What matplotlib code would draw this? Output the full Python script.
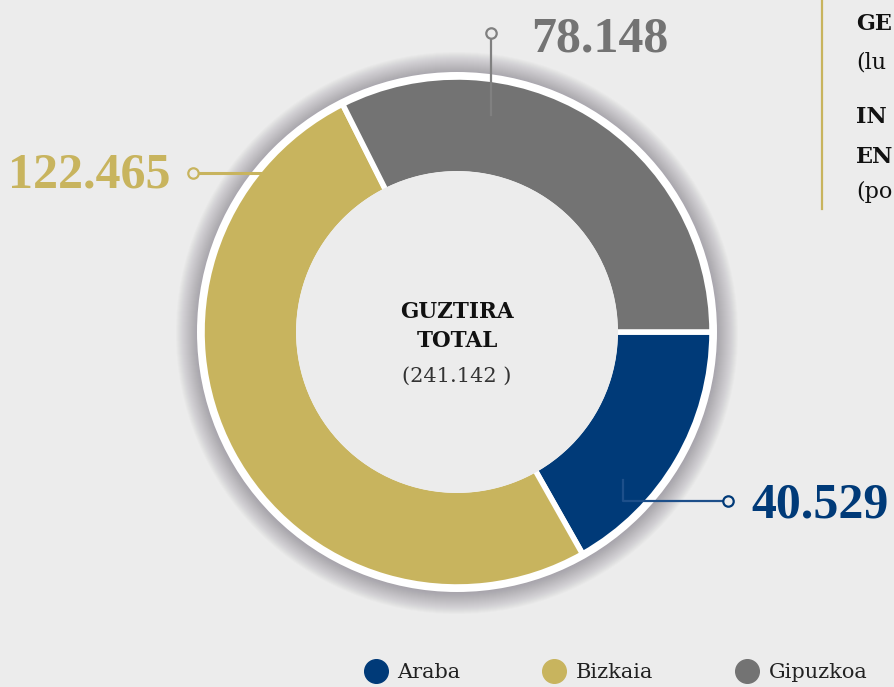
import matplotlib
matplotlib.use("Agg")
import matplotlib.pyplot as plt
from matplotlib.patches import Circle
from matplotlib.lines import Line2D

# ---- data ----
regions = ["Araba", "Bizkaia", "Gipuzkoa"]
values = [40529, 122465, 78148]
colors = ["#003a78", "#c8b45e", "#737373"]
total_label = ["GUZTIRA", "TOTAL"]
side_texts = ["GE", "(lu", "IN", "EN", "(po"]

BG = "#ececec"
W, H = 894, 687


def Y(y):
    return H - y


def fmt(v):
    return f"{v:,}".replace(",", ".")


fig = plt.figure(figsize=(W / 100, H / 100), dpi=100, facecolor=BG)
ax = fig.add_axes([0, 0, 1, 1])
ax.set_xlim(0, W)
ax.set_ylim(0, H)
ax.set_aspect("equal")
ax.axis("off")
ax.set_facecolor(BG)

cx, cy = 457, Y(332)
R_out, R_in = 255, 161

# shadow (soft, stacked translucent discs)
for k in range(22, 0, -1):
    ax.add_patch(Circle((cx, cy - 1), 259 + k, color="#5a5462", alpha=0.022, lw=0, zorder=1))
# white outer ring
ax.add_patch(Circle((cx, cy), 260, color="white", lw=0, zorder=2))

wedges, _ = ax.pie(values, colors=colors, startangle=0, counterclock=False,
                   radius=R_out, center=(cx, cy), frame=True,
                   wedgeprops=dict(width=R_out - R_in + 3, edgecolor="white",
                                   linewidth=4, zorder=3))
ax.set_xlim(0, W)
ax.set_ylim(0, H)
ax.axis("off")
ax.add_patch(Circle((cx, cy), R_in, color=BG, lw=0, zorder=4))

# center text
ax.text(cx, Y(312), total_label[0], ha="center", va="center", fontsize=15.5,
        fontweight="bold", family="DejaVu Serif", color="#111111", zorder=6)
ax.text(cx, Y(341), total_label[1], ha="center", va="center", fontsize=15.5,
        fontweight="bold", family="DejaVu Serif", color="#111111", zorder=6)
ax.text(cx, Y(376), f"({fmt(sum(values))} )", ha="center", va="center",
        fontsize=15, family="DejaVu Serif", color="#333333", zorder=6)

num_font = dict(family="Liberation Serif", fontweight="bold", fontsize=36)

# Gipuzkoa label
ax.plot([491, 491], [Y(115), Y(38)], color="#808080", lw=1.6, zorder=5)
ax.plot([491], [Y(33)], marker="o", ms=7.5, mfc=BG, mec="#808080", mew=1.6, zorder=6)
ax.text(531, Y(52), fmt(values[2]), color=colors[2], ha="left", va="baseline", **num_font)

# Bizkaia label
ax.plot([273, 198], [Y(173), Y(173)], color=colors[1], lw=2.2, zorder=5)
ax.plot([193], [Y(173)], marker="o", ms=7.5, mfc=BG, mec=colors[1], mew=1.6, zorder=6)
ax.text(8, Y(188), fmt(values[1]), color=colors[1], ha="left", va="baseline", **num_font)

# Araba label
ax.plot([623, 623, 723], [Y(480), Y(501), Y(501)], color="#1d4f8a", lw=1.6, zorder=5)
ax.plot([728], [Y(501)], marker="o", ms=7.5, mfc=BG, mec=colors[0], mew=1.6, zorder=6)
ax.text(751, Y(517), fmt(values[0]), color=colors[0], ha="left", va="baseline", **num_font)

# top-right side panel (cropped in the original)
ax.plot([822, 822], [Y(0), Y(209)], color=colors[1], lw=1.6, zorder=5)
side_y = [30, 68, 123, 163, 198]
side_bold = [True, False, True, True, False]
for t, yy, b in zip(side_texts, side_y, side_bold):
    ax.text(856, Y(yy), t, ha="left", va="baseline", fontsize=16,
            fontweight="bold" if b else "normal", family="DejaVu Serif",
            color="#111111", zorder=6)

# legend
handles = [Line2D([0], [0], marker="o", color="none", markerfacecolor=c,
                  markeredgecolor=c, markersize=17) for c in colors]
fig.legend(handles, regions, loc="center left",
           bbox_to_anchor=(363 / W, 1 - 673 / H), ncol=3, frameon=False,
           borderpad=0, borderaxespad=0, handlelength=1.2, handletextpad=0.45,
           columnspacing=3.9, prop=dict(family="DejaVu Serif", size=15),
           labelcolor="#222222")

fig.savefig("out.png", dpi=100, facecolor=BG)
